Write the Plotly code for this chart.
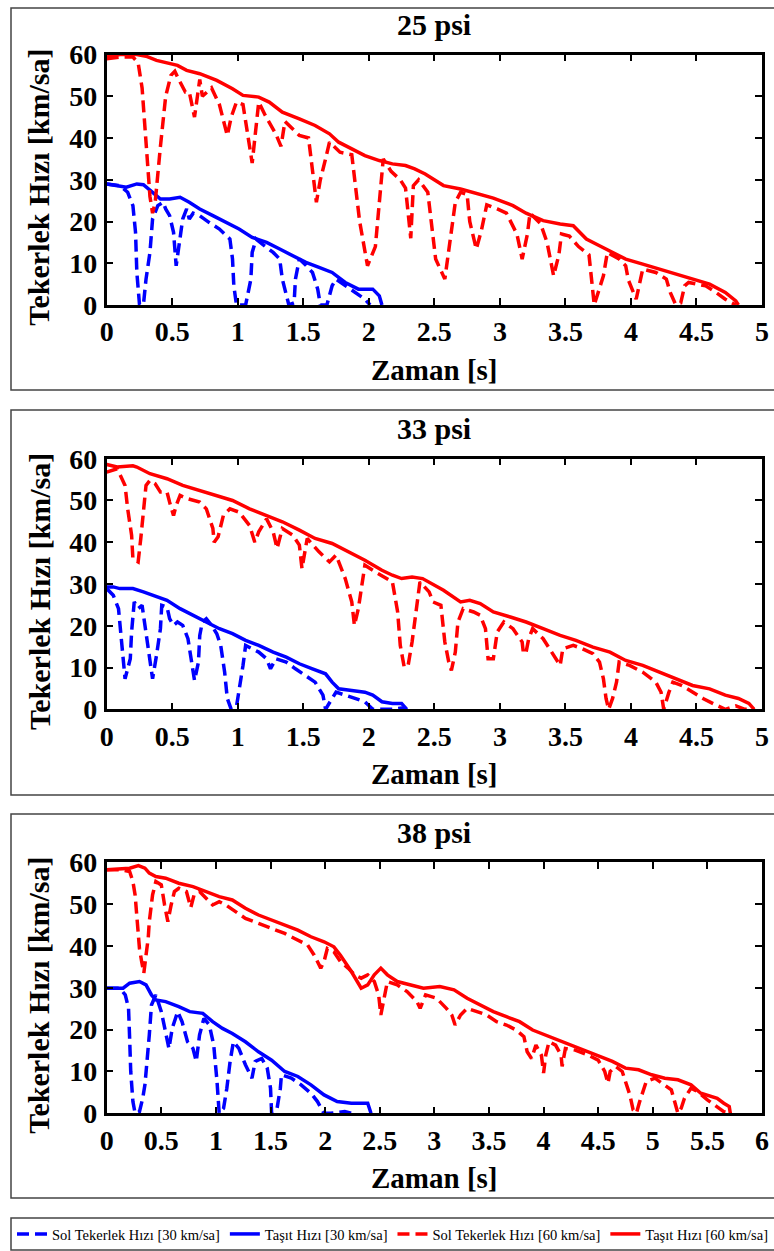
import plotly.graph_objects as go

W, H = 774, 1251

# ---------------- 25 psi ----------------
t25_wheel30 = [0, 0.1, 0.16, 0.2, 0.22, 0.23, 0.25, 0.28, 0.3, 0.33,
               0.35, 0.39, 0.43, 0.45, 0.48, 0.51, 0.53, 0.56, 0.58, 0.61,
               0.63, 0.66, 0.71, 0.78, 0.86, 0.94, 0.96, 0.97, 0.99, 1.06,
               1.1, 1.11, 1.14, 1.19, 1.27, 1.32, 1.34, 1.39, 1.43, 1.44,
               1.47, 1.52, 1.57, 1.61, 1.63, 1.68, 1.72, 1.75, 1.82, 1.9,
               1.97, 2.01]
v25_wheel30 = [29, 28.6, 27, 23.8, 17.4, 7.8, 0.2, 0, 6.2, 12.6,
               20.6, 23.8, 24.6, 23, 21.4, 17.4, 9.4, 15.8, 20.6, 23,
               20.6, 22, 21.4, 19.8, 18.2, 15.8, 11, 4.6, 0, 0,
               6.2, 12.6, 15.8, 14.5, 12.6, 11, 6.2, 0, 0.5, 6.2,
               11, 9.5, 7.8, 3.8, 0, 0, 4.6, 6.2, 4.6, 3,
               1.4, 0]
t25_car30 = [0, 0.1, 0.15, 0.23, 0.28, 0.35, 0.41, 0.48, 0.56, 0.63,
             0.71, 0.81, 0.91, 1.01, 1.11, 1.22, 1.32, 1.42, 1.52, 1.62,
             1.72, 1.82, 1.92, 2.03, 2.08, 2.1]
v25_car30 = [29, 28.6, 28.2, 29, 28.8, 27, 25.4, 25.4, 25.8, 24.6,
             23, 21.4, 19.8, 18.2, 16.2, 15, 13.4, 11.8, 10.2, 9,
             7.8, 5.4, 3.8, 3.8, 2.2, 0]
t25_wheel60 = [0, 0.1, 0.2, 0.24, 0.27, 0.3, 0.33, 0.35, 0.37, 0.41,
               0.45, 0.49, 0.52, 0.55, 0.6, 0.63, 0.67, 0.71, 0.73, 0.8,
               0.86, 0.92, 0.95, 0.99, 1.04, 1.11, 1.16, 1.21, 1.29, 1.33,
               1.36, 1.47, 1.54, 1.6, 1.63, 1.67, 1.7, 1.78, 1.87, 1.93,
               1.99, 2.05, 2.1, 2.11, 2.17, 2.24, 2.28, 2.32, 2.34, 2.38,
               2.45, 2.51, 2.58, 2.62, 2.66, 2.7, 2.75, 2.77, 2.82, 2.86,
               2.9, 2.98, 3.05, 3.13, 3.17, 3.21, 3.23, 3.31, 3.36, 3.41,
               3.45, 3.47, 3.53, 3.6, 3.68, 3.72, 3.76, 3.79, 3.82, 3.91,
               3.96, 3.98, 4.04, 4.07, 4.09, 4.19, 4.27, 4.3, 4.34, 4.38,
               4.41, 4.44, 4.52, 4.57, 4.65, 4.72, 4.8]
v25_wheel60 = [59, 59.4, 59.4, 58, 52, 38, 26, 22, 24.6, 38,
               50, 55, 56, 54, 51, 51, 45, 54, 50, 52,
               48, 40.6, 45, 48.6, 48, 34, 48.6, 45.4, 41, 38,
               44, 40.6, 40, 24.6, 30, 35, 39, 36.6, 36, 20,
               9.4, 14, 30, 35, 32, 30, 28, 16, 28.6, 30,
               27, 11, 6.2, 16, 24.6, 27, 26.5, 20, 13.4, 18,
               24, 23, 22, 17, 11, 17, 22, 19.5, 15, 7,
               12, 17, 16.5, 14, 12, 0, 4, 7, 12.6, 11,
               9.4, 6, 1.4, 6, 8.6, 7.8, 6.2, 3, 0.2, 0.5,
               4.6, 5.4, 4.8, 4.6, 3, 1.4, 0]
t25_car60 = [0, 0.1, 0.23, 0.3, 0.38, 0.48, 0.54, 0.61, 0.71, 0.84,
             0.96, 1.04, 1.16, 1.24, 1.34, 1.47, 1.59, 1.7, 1.77, 1.87,
             1.97, 2.08, 2.18, 2.28, 2.35, 2.43, 2.51, 2.57, 2.7, 2.85,
             2.95, 3.1, 3.2, 3.33, 3.46, 3.56, 3.66, 3.76, 3.86, 3.96,
             4.09, 4.22, 4.37, 4.47, 4.6, 4.72, 4.8, 4.82]
v25_car60 = [59.4, 60, 60, 59.6, 58.6, 57.8, 57.4, 56.2, 55.4, 53.8,
             51.8, 50.2, 49.8, 48.6, 46.2, 44.6, 43, 41, 39, 37.4,
             35.8, 34.6, 33.8, 33.4, 32.6, 31.4, 29.8, 28.6, 27.8, 26.6,
             25.6, 23.8, 22, 20.2, 19.4, 19, 15.8, 14.2, 12.6, 11,
             9.8, 8.6, 7, 6.2, 5, 3, 1, 0]

# ---------------- 33 psi ----------------
t33_wheel30 = [0, 0.05, 0.09, 0.11, 0.13, 0.14, 0.18, 0.19, 0.21, 0.24,
               0.27, 0.29, 0.32, 0.35, 0.38, 0.41, 0.42, 0.46, 0.48, 0.51,
               0.54, 0.58, 0.62, 0.65, 0.67, 0.7, 0.71, 0.73, 0.76, 0.8,
               0.84, 0.87, 0.9, 0.92, 0.95, 0.99, 1.01, 1.04, 1.06, 1.11,
               1.16, 1.22, 1.25, 1.29, 1.37, 1.44, 1.52, 1.59, 1.65, 1.67,
               1.72, 1.75, 1.82, 1.9, 1.97, 2.03, 2.18, 2.25, 2.28]
v33_wheel30 = [28.9, 27.3, 24.1, 17.7, 10.5, 7.3, 12.1, 18.5, 25.7, 24.1,
               24.9, 20.1, 13.7, 7.3, 12.9, 19.3, 24.9, 24.5, 21.7, 20.1,
               20.9, 20.1, 16.9, 11.3, 6.9, 11.3, 17.7, 20.9, 21.7, 20.1,
               18.1, 15.3, 8.9, 2.6, 0, 0.6, 4.1, 10.5, 15.3, 14.5,
               13.7, 12.1, 9.7, 12.1, 11.3, 9.7, 8.1, 6.5, 3.4, 0,
               2.6, 4.1, 3.4, 2.6, 1.8, 0, 0, 0.3, 0]
t33_car30 = [0, 0.05, 0.1, 0.2, 0.28, 0.35, 0.46, 0.56, 0.66, 0.76,
             0.86, 0.96, 1.06, 1.16, 1.27, 1.37, 1.47, 1.57, 1.67, 1.72,
             1.77, 1.87, 1.97, 2.03, 2.1, 2.18, 2.25, 2.29]
v33_car30 = [29.3, 29.3, 28.9, 28.9, 28.1, 27.3, 26.1, 24.1, 22.5, 20.9,
             19.3, 18.1, 16.5, 15.3, 13.7, 12.5, 10.9, 9.7, 8.5, 6.5,
             4.9, 4.5, 4.1, 3.4, 1.8, 1.4, 1.4, 0]
t33_wheel60 = [0, 0.08, 0.11, 0.14, 0.16, 0.19, 0.2, 0.24, 0.26, 0.28,
               0.3, 0.33, 0.37, 0.41, 0.46, 0.48, 0.51, 0.53, 0.56, 0.61,
               0.66, 0.71, 0.76, 0.81, 0.82, 0.85, 0.89, 0.94, 1.01, 1.09,
               1.13, 1.16, 1.22, 1.27, 1.3, 1.34, 1.42, 1.47, 1.49, 1.53,
               1.62, 1.7, 1.75, 1.82, 1.87, 1.89, 1.92, 1.95, 1.97, 2.05,
               2.13, 2.18, 2.22, 2.24, 2.27, 2.3, 2.33, 2.37, 2.39, 2.46,
               2.49, 2.55, 2.58, 2.61, 2.63, 2.66, 2.68, 2.72, 2.8, 2.85,
               2.89, 2.91, 2.95, 2.98, 3.03, 3.1, 3.17, 3.18, 3.2, 3.22,
               3.25, 3.33, 3.38, 3.46, 3.48, 3.56, 3.63, 3.71, 3.76, 3.79,
               3.81, 3.83, 3.86, 3.89, 3.91, 3.99, 4.09, 4.19, 4.23, 4.25,
               4.29, 4.32, 4.39, 4.47, 4.55, 4.65, 4.72, 4.8, 4.87, 4.94]
v33_wheel60 = [56.8, 57.6, 55.6, 53.6, 48, 41.7, 36, 35.3, 40.9, 47.2,
               53.6, 54.8, 54, 52, 52, 49.6, 46.4, 48.8, 51.2, 50.5,
               50, 49.6, 48, 43.3, 40, 41.3, 46.4, 48, 47.2, 44,
               40, 42.5, 45.6, 42.5, 38.5, 43.3, 41.7, 39.3, 33.7, 40.9,
               37.7, 35.3, 36.9, 31.3, 25.7, 20.1, 24.1, 30.5, 34.5, 32.9,
               31.3, 30.5, 23.3, 15.3, 10.1, 10.5, 16.1, 26.5, 30.5, 28.1,
               25.7, 24.9, 16.1, 11.3, 9.3, 13.7, 20.9, 24.1, 23.3, 22.5,
               19.3, 12.1, 12.1, 18.5, 20.9, 19.3, 16.1, 13.3, 13.7, 16.9,
               19.3, 16.9, 14.5, 10.5, 14.5, 15.3, 14.5, 13.3, 11.3, 7.3,
               2.6, 0, 2.6, 6.5, 11.3, 10.5, 8.9, 6.5, 4.1, 0,
               4.1, 6.5, 5.7, 4.1, 2.6, 1, 0, 0.8, 0, 0]
t33_car60 = [0, 0.08, 0.2, 0.23, 0.33, 0.46, 0.58, 0.71, 0.84, 0.96,
             1.09, 1.22, 1.34, 1.47, 1.59, 1.72, 1.85, 1.97, 2.1, 2.18,
             2.25, 2.33, 2.41, 2.48, 2.57, 2.7, 2.77, 2.85, 2.95, 3.08,
             3.2, 3.33, 3.46, 3.58, 3.71, 3.84, 3.96, 4.09, 4.22, 4.34,
             4.47, 4.6, 4.72, 4.82, 4.9, 4.94]
v33_car60 = [58.6, 58, 58.3, 58, 56.4, 55.2, 53.6, 52.4, 51.2, 50,
             48, 46.4, 44.9, 42.9, 40.9, 39.7, 37.7, 35.7, 33.3, 32.1,
             31.3, 31.7, 31.3, 30.1, 28.5, 25.7, 26.1, 25.3, 23.3, 22.1,
             20.9, 19.3, 17.7, 16.5, 14.9, 13.7, 11.7, 10.5, 8.9, 7.3,
             5.7, 4.9, 3.4, 2.6, 1.4, 0]

# ---------------- 38 psi ----------------
t38_wheel30 = [0, 0.12, 0.17, 0.2, 0.21, 0.22, 0.24, 0.26, 0.3, 0.33,
               0.35, 0.37, 0.39, 0.41, 0.45, 0.5, 0.54, 0.57, 0.6, 0.65,
               0.69, 0.74, 0.79, 0.82, 0.85, 0.89, 0.94, 0.98, 1.01, 1.03,
               1.07, 1.1, 1.13, 1.16, 1.21, 1.27, 1.33, 1.36, 1.42, 1.47,
               1.5, 1.51, 1.56, 1.59, 1.6, 1.69, 1.78, 1.87, 1.93, 1.99,
               2.05, 2.18, 2.24]
v38_wheel30 = [29.9, 29.9, 28.3, 25.1, 17.9, 10, 2.8, 0, 0.4, 3.6,
               6.8, 12.4, 18.7, 25.9, 28.3, 24.3, 19.5, 15.5, 20.3, 24.3,
               21.9, 17.1, 15.5, 12.4, 18.7, 22.7, 21.1, 16.3, 7.6, 0,
               1.2, 6, 12.4, 17.1, 15.5, 11.6, 8.4, 12.4, 13.1, 10.8,
               6, 0, 1.2, 6, 9.2, 8.4, 6.8, 4.8, 2.8, 0,
               0, 0.4, 0]
t38_car30 = [0, 0.15, 0.21, 0.3, 0.36, 0.41, 0.45, 0.54, 0.66, 0.76,
             0.88, 0.97, 1.06, 1.15, 1.27, 1.39, 1.51, 1.63, 1.75, 1.87,
             1.99, 2.11, 2.24, 2.39, 2.42]
v38_car30 = [29.9, 29.9, 31.1, 31.5, 30.7, 28.3, 27.1, 26.7, 25.5, 24.3,
             23.9, 21.9, 20.3, 19.1, 17.1, 14.7, 12.7, 10, 8.8, 6.8,
             4.4, 2.8, 2.4, 2.4, 0]
t38_wheel60 = [0, 0.12, 0.21, 0.24, 0.26, 0.28, 0.3, 0.32, 0.34, 0.36,
               0.38, 0.39, 0.42, 0.45, 0.5, 0.53, 0.56, 0.59, 0.62, 0.66,
               0.73, 0.77, 0.8, 0.85, 0.91, 0.97, 1.03, 1.09, 1.18, 1.27,
               1.39, 1.51, 1.63, 1.72, 1.78, 1.84, 1.9, 1.96, 1.99, 2.02,
               2.08, 2.14, 2.21, 2.27, 2.33, 2.39, 2.45, 2.49, 2.51, 2.54,
               2.57, 2.66, 2.75, 2.84, 2.87, 2.92, 3.02, 3.11, 3.16, 3.19,
               3.24, 3.3, 3.39, 3.48, 3.57, 3.66, 3.75, 3.82, 3.85, 3.89,
               3.93, 3.98, 4.0, 4.02, 4.05, 4.11, 4.16, 4.17, 4.2, 4.29,
               4.41, 4.5, 4.56, 4.59, 4.61, 4.66, 4.72, 4.76, 4.79, 4.82,
               4.85, 4.88, 4.91, 4.94, 5.02, 5.11, 5.17, 5.2, 5.23, 5.26,
               5.29, 5.35, 5.41, 5.5, 5.59, 5.65, 5.71]
v38_wheel60 = [58.2, 58.2, 57.8, 55.4, 52.2, 45.8, 39.4, 36.3, 33.5, 37.8,
               41.8, 45.8, 52.2, 55.4, 54.6, 49.8, 45.8, 49.8, 53, 53.8,
               53, 49.2, 52.2, 53, 51.4, 49.8, 50.6, 49.8, 48.2, 46.6,
               45.4, 44.2, 43, 41.8, 41, 40.2, 37.8, 34.7, 36.3, 39.4,
               38.6, 36.3, 34.7, 33.1, 32.3, 33.1, 31.5, 28.3, 23.5, 27.5,
               31.5, 30.7, 29.1, 26.7, 25.1, 28.3, 27.5, 25.1, 23.5, 21.1,
               23.5, 25.1, 24.3, 23.5, 21.9, 21.1, 19.9, 18.3, 14.7, 13.1,
               16.3, 13.9, 9.6, 13.9, 17.1, 16.3, 13.9, 11.2, 15.5, 15.1,
               13.9, 12.7, 10, 7.2, 10, 11.2, 10, 6.8, 4.4, 0.8,
               0, 2.8, 5.2, 7.6, 8.4, 6.8, 5.6, 2.8, 0, 1.2,
               3.6, 6, 5.2, 3.2, 1.6, 0.4, 0]
t38_car60 = [0, 0.12, 0.21, 0.29, 0.35, 0.39, 0.45, 0.54, 0.66, 0.79,
             0.91, 1.03, 1.15, 1.27, 1.39, 1.51, 1.63, 1.75, 1.87, 1.99,
             2.08, 2.14, 2.24, 2.3, 2.33, 2.39, 2.45, 2.51, 2.57, 2.66,
             2.78, 2.9, 3.05, 3.18, 3.3, 3.42, 3.54, 3.66, 3.78, 3.9,
             4.02, 4.14, 4.26, 4.38, 4.5, 4.63, 4.75, 4.87, 4.99, 5.11,
             5.23, 5.35, 5.44, 5.53, 5.59, 5.65, 5.7, 5.71]
v38_car60 = [58.2, 58.4, 58.6, 59.2, 58.6, 57.4, 56.6, 56.2, 55, 54.2,
             53, 51.8, 51, 49, 47.4, 46.2, 45, 43.8, 42.2, 41,
             39.8, 37.8, 33.9, 31.1, 29.9, 30.7, 33.1, 34.7, 33.1, 31.5,
             30.7, 29.9, 30.3, 29.5, 27.5, 25.9, 24.3, 23.1, 21.9, 19.9,
             18.7, 17.5, 16.3, 15.1, 13.9, 12.4, 10.8, 10.4, 9.2, 8.4,
             8, 6.8, 4.8, 4, 3.6, 2.4, 1.6, 0]

titles = ["25 psi", "33 psi", "38 psi"]
x_max = [5, 5, 6]
y_ticks = [0, 10, 20, 30, 40, 50, 60]
series_names = ["Sol Tekerlek Hızı [30 km/sa]", "Taşıt Hızı [30 km/sa]",
                "Sol Tekerlek Hızı [60 km/sa]", "Taşıt Hızı [60 km/sa]"]
panel_data = [
    [(t25_wheel30, v25_wheel30), (t25_car30, v25_car30), (t25_wheel60, v25_wheel60), (t25_car60, v25_car60)],
    [(t33_wheel30, v33_wheel30), (t33_car30, v33_car30), (t33_wheel60, v33_wheel60), (t33_car60, v33_car60)],
    [(t38_wheel30, v38_wheel30), (t38_car30, v38_car30), (t38_wheel60, v38_wheel60), (t38_car60, v38_car60)],
]
for pd_ in panel_data:
    for t, v in pd_:
        assert len(t) == len(v), (len(t), len(v))

colors = ["#0000FF", "#0000FF", "#FF0000", "#FF0000"]
dashes = ["12px,6px", "solid", "12px,6px", "solid"]

FONT = "Liberation Serif, Times New Roman, serif"

# layout geometry (pixels)
plot_left, plot_right = 106.7, 762.0
plot_tops = [54.5, 458.7, 862.3]
plot_bottoms = [305.0, 709.3, 1113.3]
boxes = [(8, 390), (410, 795), (814, 1198)]


def px(x):
    return x / W


def py(y):
    return 1 - y / H


fig = go.Figure()
for i, pdata in enumerate(panel_data):
    key = "" if i == 0 else str(i + 1)
    for j, (t, v) in enumerate(pdata):
        fig.add_trace(go.Scatter(
            x=t, y=v, mode="lines",
            line=dict(color=colors[j], width=3.5, dash=dashes[j]),
            name=series_names[j], legendgroup=series_names[j],
            showlegend=(i == 0), xaxis="x" + key, yaxis="y" + key,
            hoverinfo="skip"))

    axis_common = dict(
        showline=True, linecolor="black", linewidth=2.5, mirror="ticks",
        ticks="inside", ticklen=7, tickwidth=2, tickcolor="black",
        showgrid=False, zeroline=False, automargin=False,
        tickfont=dict(family=FONT, size=28, color="black", weight=700),
    )
    fig.layout["xaxis" + key] = dict(
        domain=[px(plot_left), px(plot_right)],
        range=[0, x_max[i]], dtick=0.5, tick0=0,
        anchor="y" + key, ticklabelstandoff=0, **axis_common)
    fig.layout["yaxis" + key] = dict(
        domain=[py(plot_bottoms[i]), py(plot_tops[i])],
        range=[0, 60], tickvals=y_ticks,
        anchor="x" + key, ticklabelstandoff=1, **axis_common)

    # panel title
    fig.add_annotation(text="<b>%s</b>" % titles[i], xref="paper", yref="paper",
                       x=px(434), y=py(plot_tops[i] - 30),
                       showarrow=False, xanchor="center", yanchor="middle",
                       font=dict(family=FONT, size=30, color="black"))
    # x axis title
    fig.add_annotation(text="<b>Zaman [s]</b>", xref="paper", yref="paper",
                       x=px(434), y=py(plot_bottoms[i] + 65),
                       showarrow=False, xanchor="center", yanchor="middle",
                       font=dict(family=FONT, size=29, color="black"))
    # y axis title
    fig.add_annotation(text="<b>Tekerlek Hızı [km/sa]</b>", xref="paper", yref="paper",
                       x=px(39), y=py((plot_tops[i] + plot_bottoms[i]) / 2 + 8),
                       showarrow=False, xanchor="center", yanchor="middle", textangle=-90,
                       font=dict(family=FONT, size=30, color="black"))
    # panel frame
    fig.add_shape(type="rect", xref="paper", yref="paper",
                  x0=px(11), x1=px(790), y0=py(boxes[i][1]), y1=py(boxes[i][0]),
                  line=dict(color="#444444", width=1.5), layer="below")

# legend frame
fig.add_shape(type="rect", xref="paper", yref="paper",
              x0=px(11), x1=px(790), y0=py(1250), y1=py(1218),
              line=dict(color="#444444", width=1.5), layer="below")

fig.update_layout(
    width=W, height=H, autosize=False,
    margin=dict(l=0, r=0, t=0, b=0, autoexpand=False),
    paper_bgcolor="white", plot_bgcolor="white",
    showlegend=True,
    legend=dict(orientation="h", xref="container", yref="container",
                x=px(12), y=py(1234), xanchor="left", yanchor="middle",
                font=dict(family=FONT, size=14.5, color="black"),
                itemwidth=30, tracegroupgap=0, bgcolor="rgba(0,0,0,0)",
                traceorder="normal"),
)

fig.write_html("out.html",
               config={"displayModeBar": False},
               post_script="document.body.style.margin='0px';document.body.style.overflow='hidden';")
